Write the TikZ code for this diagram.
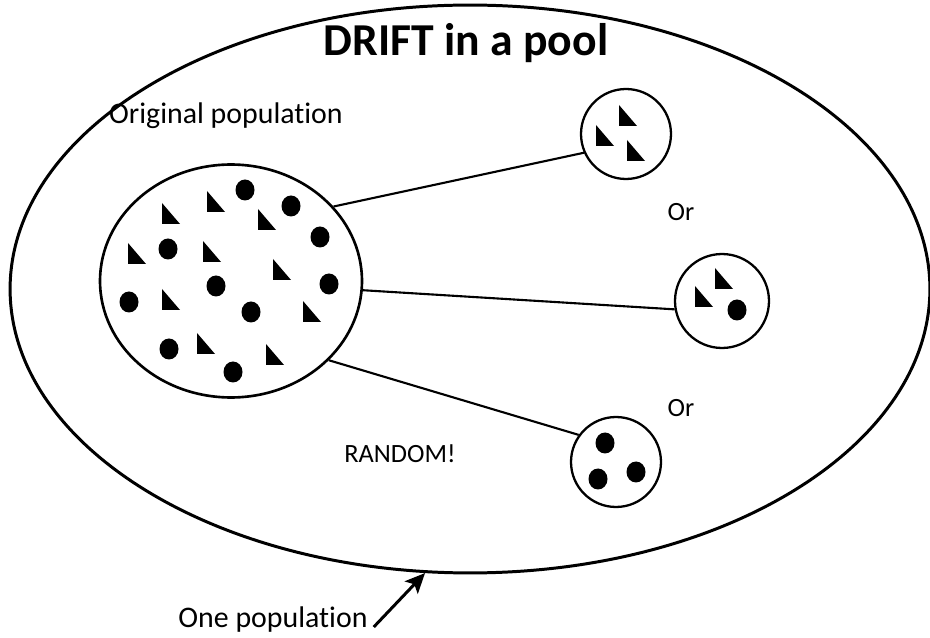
\documentclass[tikz,border=0pt]{standalone}
\usepackage{fontspec}
\setmainfont[Ligatures=NoCommon]{Carlito}
\usepackage{tikz}
\usetikzlibrary{shapes.geometric, arrows.meta}
\tikzstyle{pool} = [ellipse, draw=black, line width=1.7pt, minimum width=18.4cm, minimum height=11.36cm, inner sep=0pt]
\tikzstyle{origpop} = [ellipse, draw=black, line width=1.5pt, minimum width=5.24cm, minimum height=4.66cm, inner sep=0pt]
\tikzstyle{sample} = [circle, draw=black, line width=1.3pt, minimum size=1.8cm, inner sep=0pt]
\tikzstyle{title} = [font=\fontsize{26}{30}\selectfont\bfseries, anchor=base]
\tikzstyle{txt} = [font=\fontsize{17}{20}\selectfont, anchor=base]
\tikzstyle{small} = [font=\fontsize{15}{18}\selectfont, anchor=base]
\tikzstyle{link} = [line width=1.2pt]
\tikzstyle{arrow} = [line width=1.7pt,->,>={Stealth[length=4mm,width=3.6mm,inset=0.9mm]}]

\begin{document}
\begin{tikzpicture}[x=0.02cm, y=-0.02cm]
			\useasboundingbox (0,0) rectangle (930,638);
			\node (pool) [pool] at (470,289) {};
			\node (title) [title] at (466,56) {DRIFT in a pool};
			\node (orig) [origpop] at (231,281) {};
			\node (origlabel) [txt] at (226,124) {Original population};
			\node (samp1) [sample] at (626,134) {};
			\node (samp2) [sample, minimum size=1.88cm] at (722,301) {};
			\node (samp3) [sample] at (616,462) {};
			\node (or1) [small] at (681,221) {Or};
			\node (or2) [small] at (681,417) {Or};
			\node (random) [small] at (400,462) {RANDOM!};
			\node (onepop) [txt] at (273,627) {One population};

			% individuals
			\foreach \x/\y in {162/203, 207/191, 258/209, 128/243, 203/241, 273/259, 162/289, 303/301, 197/333, 266/344, 619/105, 596/125, 627/140, 715/268, 695/286}
				\fill (\x,\y) -- ++(0,21) -- ++(18,0) -- cycle;
			\foreach \x/\y in {245/190, 291/206, 320/237, 168/249, 216/286, 329/284, 129/302, 251/312, 169/349, 233/372, 737/310, 605/443, 598/479, 636/472}
				\fill (\x,\y) ellipse [x radius=9.5, y radius=10.5];

			\draw [link] (orig.36) -- (samp1.204);
			\draw [link] (orig.356) -- (samp2.190);
			\draw [link] (orig.321) -- (samp3.144);
			\draw [arrow] (onepop.base east) -- (pool.261);
		\end{tikzpicture}
\end{document}
